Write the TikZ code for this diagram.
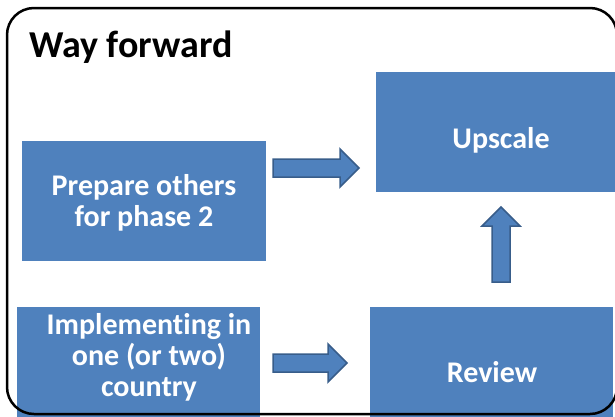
\documentclass[tikz,border=0pt]{standalone}
\usepackage{fontspec}
\setmainfont{Carlito}[Ligatures=NoCommon]
\usetikzlibrary{shapes.arrows}

\definecolor{boxblue}{RGB}{79,129,189}
\definecolor{arrowrim}{RGB}{56,93,138}

\tikzset{
  stage/.style={rectangle, fill=boxblue, draw=none, inner sep=0pt},
  stagetext/.style={text=white, font=\bfseries\fontsize{30}{31}\selectfont, align=center, inner sep=0pt},
  blockarrow/.style={single arrow, fill=boxblue, draw=arrowrim, line width=1.5pt, inner xsep=0pt, inner ysep=8.25pt, single arrow head extend=10pt, outer sep=0pt, anchor=tail}
}

\begin{document}
\begin{tikzpicture}[x=1pt,y=-1pt]
\useasboundingbox (0,0) rectangle (615,416);

\node[stage, minimum width=250pt, minimum height=120pt] (upscale) at (501,132) {};
\node[stage, minimum width=244pt, minimum height=120pt] (prepare) at (144,201) {};
\node[stage, minimum width=243pt, minimum height=120pt] (implement) at (138.5,367) {};
\node[stage, minimum width=243pt, minimum height=120pt] (review) at (491.5,367) {};

\node[stagetext, anchor=base] (upscale-t) at (501,148) {Upscale};
\node[stagetext] (prepare-t) at (144,203) {Prepare others\\for phase 2};
\node[stagetext] (implement-t) at (149,357) {Implementing in\\one (or two)\\country};
\node[stagetext, anchor=base] (review-t) at (492,382) {Review};

\node[blockarrow, minimum height=86pt] (toupscale) at (273,168) {};
\node[blockarrow, minimum height=74pt] (toreview) at (273,363) {};
\node[blockarrow, minimum height=75pt, shape border rotate=90, inner xsep=8.25pt, inner ysep=0pt] (up) at (501,282) {};

% frame
\draw[line width=2.5pt, rounded corners=27pt] (7,8) rectangle (617,414);
\node[anchor=base west, font=\bfseries\fontsize{38}{44}\selectfont, inner sep=0pt] (title) at (29,57) {Way forward};

\end{tikzpicture}
\end{document}
